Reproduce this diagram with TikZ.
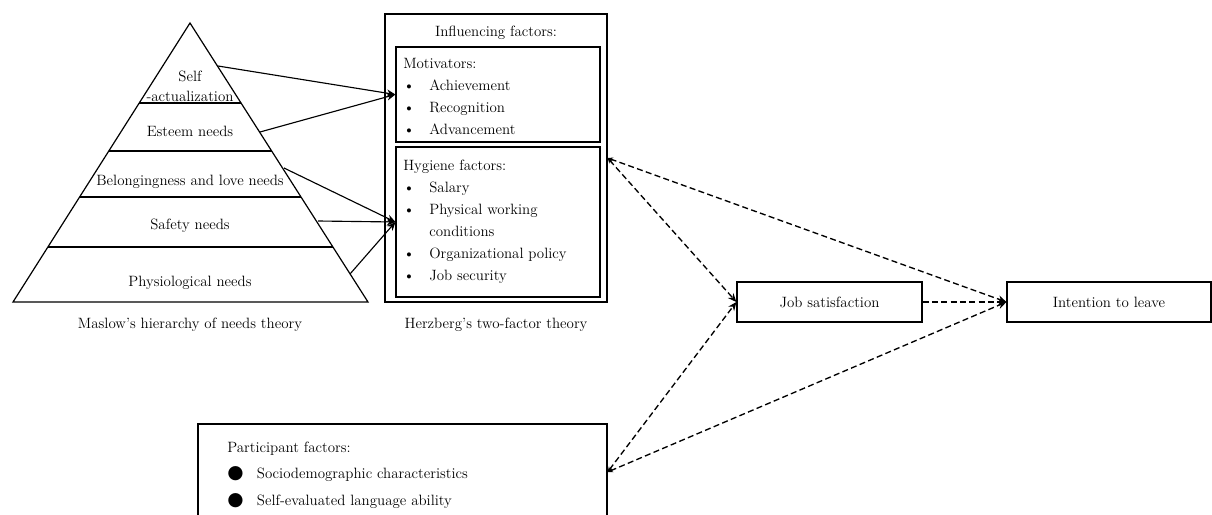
\documentclass[tikz,border=0pt]{standalone}
\usepackage{fontspec}
\newfontfamily\dotfont{DejaVu Sans}
\usepackage{tikz}
\usetikzlibrary{arrows.meta}

\begin{document}
\begin{tikzpicture}[x=0.75pt,y=-0.75pt,
                    every node/.style={font={\fontsize{11.2}{15}\selectfont}},
                    box/.style={draw,line width=0.9pt,inner sep=0pt},
                    txt/.style={inner sep=0pt,align=center},
                    lst/.style={inner sep=0pt,anchor=base west,font={\fontsize{11.2}{16.5}\selectfont}},
                    solidarrow/.style={line width=0.85pt,-{Stealth[length=6.5pt,width=5.5pt]}},
                    dasharrow/.style={line width=1pt,dash pattern=on 4.5pt off 2.5pt,
                                      {Stealth[length=4pt,width=3.5pt]}-{Stealth[length=6.5pt,width=5.5pt]}}]
\useasboundingbox (0,0) rectangle (1212,514);
\draw[line width=0.9pt] (190,23) -- (368,302) -- (13,302) -- cycle;
\foreach \y in {103,151,197,247}
  \draw[line width=0.9pt] ({190-0.6344*(\y-23)},\y) -- ({190+0.638*(\y-23)},\y);
\node[txt] (self)    at (190,86)  {Self\\-actualization};
\node[txt] (esteem)  at (190,131) {Esteem needs};
\node[txt] (belong)  at (190,182) {Belongingness and love needs};
\node[txt] (safety)  at (190,226) {Safety needs};
\node[txt] (physio)  at (190,283) {Physiological needs};
\node[txt] (maslow)  at (190,325) {Maslow’s hierarchy of needs theory};
\coordinate (selfe)   at (218,66);
\coordinate (esteeme) at (260,132);
\coordinate (belonge) at (284,168);
\coordinate (safetye) at (318,221);
\coordinate (physioe) at (350,274);

\node[box,minimum width=166.5pt,minimum height=216pt]  (herz) at (496,158) {};
\node[box,minimum width=153pt,minimum height=71.25pt]  (mot)  at (498,94.5) {};
\node[box,minimum width=153pt,minimum height=112.5pt]  (hyg)  at (498,222) {};
\node[txt] (influ)   at (496,33)  {Influencing factors:};
\node[lst] (motlist) at (403,68) {\begin{tabular}[t]{@{}c@{\hspace{11pt}}l@{}}
  \multicolumn{2}{@{}l@{}}{Motivators:}\\
  \textbullet & Achievement\\
  \textbullet & Recognition\\
  \textbullet & Advancement
\end{tabular}};
\node[lst] (hyglist) at (403,170) {\begin{tabular}[t]{@{}c@{\hspace{11pt}}l@{}}
  \multicolumn{2}{@{}l@{}}{Hygiene factors:}\\
  \textbullet & Salary\\
  \textbullet & Physical working\\
              & conditions\\
  \textbullet & Organizational policy\\
  \textbullet & Job security
\end{tabular}};
\node[txt] (herzcap) at (496,325) {Herzberg’s two-factor theory};

\node[box,minimum width=138.75pt,minimum height=30pt] (job)   at (829.5,302) {Job satisfaction};
\node[box,minimum width=153pt,minimum height=30pt]    (leave) at (1109,302)  {Intention to leave};

\node[box,minimum width=306.75pt,minimum height=72pt] (part) at (402.5,472) {};
\node[lst,font={\fontsize{11.2}{20}\selectfont}] (partlist) at (227,452) {\begin{tabular}[t]{@{}c@{\hspace{10pt}}l@{}}
  \multicolumn{2}{@{}l@{}}{Participant factors:}\\
  {\dotfont\fontsize{14}{14}\selectfont ●} & Sociodemographic characteristics\\
  {\dotfont\fontsize{14}{14}\selectfont ●} & Self-evaluated language ability
\end{tabular}};

\draw[solidarrow] (selfe)   -- (mot.west);
\draw[solidarrow] (esteeme) -- (mot.west);
\draw[solidarrow] (belonge) -- (hyg.west);
\draw[solidarrow] (safetye) -- (hyg.west);
\draw[solidarrow] (physioe) -- (hyg.west);

\draw[dasharrow] (herz.east) -- (job.west);
\draw[dasharrow] (herz.east) -- (leave.west);
\draw[dasharrow] (part.east) -- (job.west);
\draw[dasharrow] (part.east) -- (leave.west);
\draw[line width=1pt,dash pattern=on 4.5pt off 2.5pt,-{Stealth[length=6.5pt,width=5.5pt]}] (job) -- (leave);
\end{tikzpicture}
\end{document}
